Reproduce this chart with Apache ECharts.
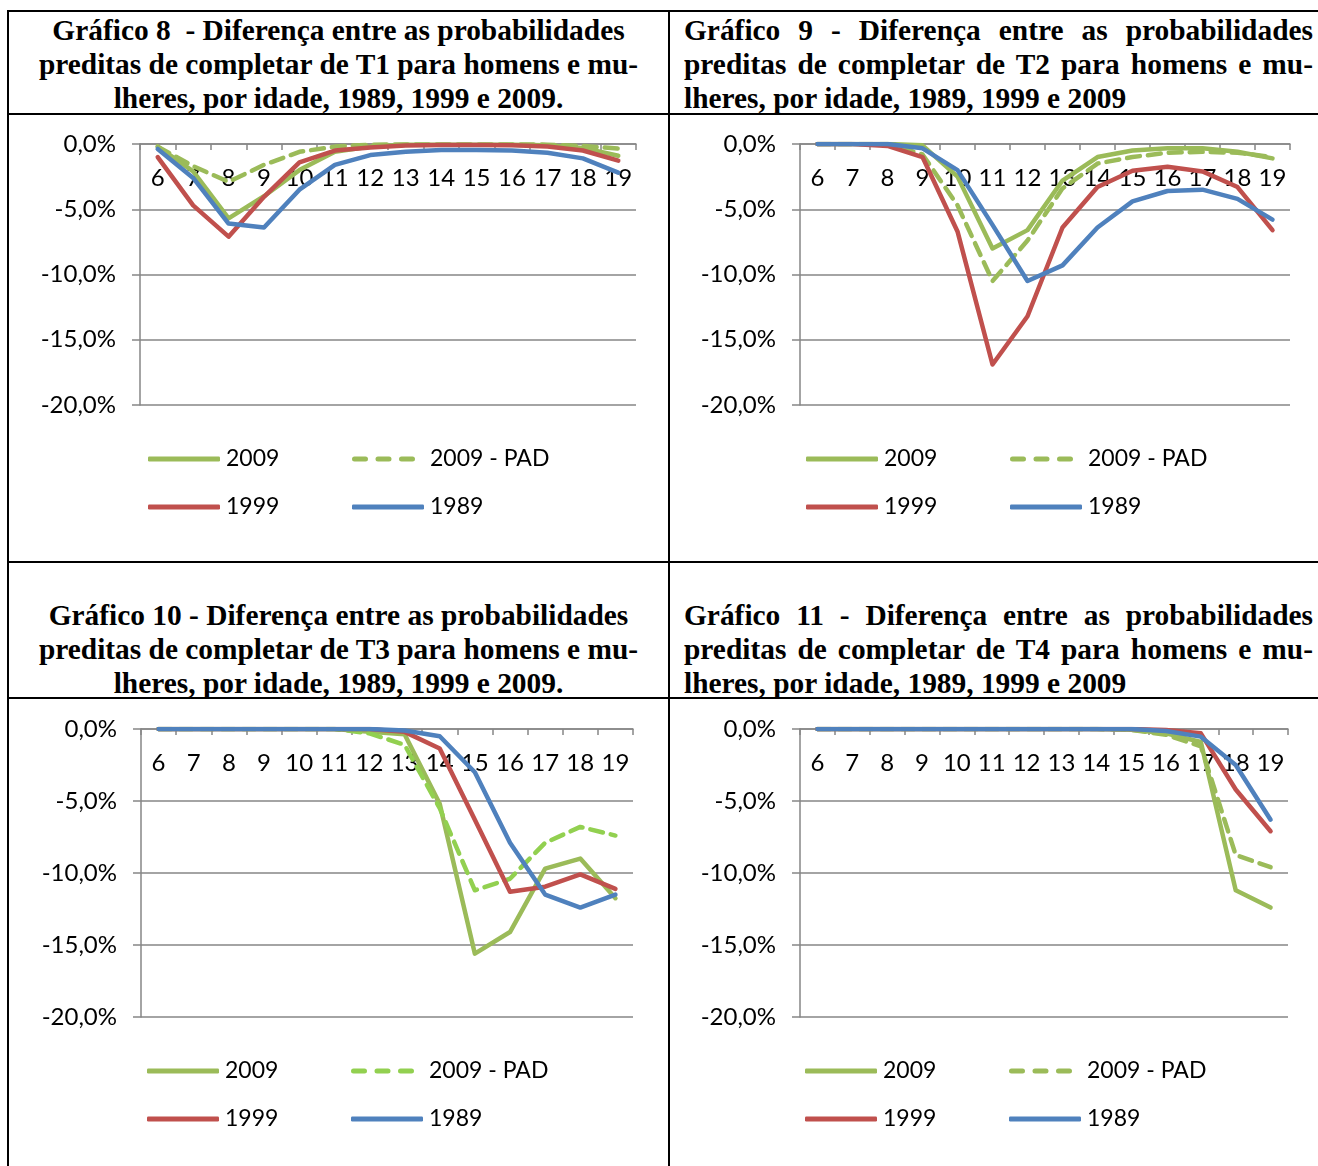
<!DOCTYPE html>
<html><head><meta charset="utf-8">
<script src="https://cdn.jsdelivr.net/npm/echarts@6/dist/echarts.min.js"></script>
<style>
html,body{margin:0;padding:0;background:#fff;width:1318px;height:1166px;overflow:hidden;position:relative;}
.b{position:absolute;background:#000;}
.t{position:absolute;font-family:"Liberation Serif","Times New Roman",serif;font-weight:bold;font-size:29.4px;line-height:34px;color:#000;white-space:nowrap;}
.c{text-align:center;}
.j div{text-align:justify;text-align-last:justify;}
.j div.l{text-align:left;text-align-last:left;}
.ch{position:absolute;left:0;top:0;width:1318px;height:1166px;}
</style></head><body>
<div class="b" style="left:8px;top:10px;width:1310px;height:2px"></div>
<div class="b" style="left:7px;top:10px;width:2px;height:1156px"></div>
<div class="b" style="left:668px;top:10px;width:2px;height:1156px"></div>
<div class="b" style="left:8px;top:113px;width:1310px;height:1.5px"></div>
<div class="b" style="left:8px;top:561px;width:1310px;height:2px"></div>
<div class="b" style="left:8px;top:697px;width:1310px;height:1.5px"></div>

<div class="t c" style="left:8px;top:13px;width:661px">Gráfico 8&nbsp; - Diferença entre as probabilidades<br>preditas de completar de T1 para homens e mu-<br>lheres, por idade, 1989, 1999 e 2009.</div>
<div class="t j" style="left:684px;top:13px;width:629px"><div>Gráfico 9 - Diferença entre as probabilidades</div><div>preditas de completar de T2 para homens e mu-</div><div class="l">lheres, por idade, 1989, 1999 e 2009</div></div>
<div class="t c" style="left:8px;top:598px;width:661px">Gráfico 10 - Diferença entre as probabilidades<br>preditas de completar de T3 para homens e mu-<br>lheres, por idade, 1989, 1999 e 2009.</div>
<div class="t j" style="left:684px;top:598px;width:629px"><div>Gráfico 11 - Diferença entre as probabilidades</div><div>preditas de completar de T4 para homens e mu-</div><div class="l">lheres, por idade, 1989, 1999 e 2009</div></div>

<div id="c8" class="ch"></div>
<div id="c9" class="ch"></div>
<div id="c10" class="ch"></div>
<div id="c11" class="ch"></div>
<script>
var ages = ['6','7','8','9','10','11','12','13','14','15','16','17','18','19'];
var yTicks = [0, -5, -10, -15, -20];
var seriesNames = ['2009', '2009 - PAD', '1999', '1989'];

// Gráfico 8 (T1)
var t1_2009 = [-0.2,-2.1,-5.7,-4.0,-2.0,-0.6,-0.2,-0.05,-0.05,-0.05,-0.05,-0.1,-0.3,-0.9];
var t1_pad  = [-0.2,-1.7,-2.9,-1.6,-0.6,-0.2,-0.05,-0.03,-0.03,-0.03,-0.03,-0.05,-0.15,-0.35];
var t1_1999 = [-1.0,-4.7,-7.1,-4.05,-1.4,-0.5,-0.26,-0.12,-0.08,-0.08,-0.1,-0.2,-0.5,-1.28];
var t1_1989 = [-0.38,-2.6,-6.1,-6.4,-3.5,-1.6,-0.85,-0.6,-0.46,-0.46,-0.5,-0.67,-1.1,-2.2];

// Gráfico 9 (T2)
var t2_2009 = [0,0,0,-0.1,-2.5,-8.0,-6.6,-2.8,-1.0,-0.5,-0.33,-0.33,-0.6,-1.1];
var t2_pad  = [0,0,0,-0.8,-4.7,-10.5,-7.4,-3.4,-1.5,-1.0,-0.67,-0.6,-0.67,-1.0];
var t2_1999 = [0,0,-0.15,-1.0,-6.7,-16.9,-13.2,-6.4,-3.3,-2.05,-1.75,-2.1,-3.3,-6.6];
var t2_1989 = [0,0,0,-0.33,-2.0,-6.2,-10.5,-9.3,-6.4,-4.4,-3.6,-3.5,-4.2,-5.8];

// Gráfico 10 (T3)
var t3_2009 = [0,0,0,0,0,0,-0.2,-0.37,-5.2,-15.6,-14.1,-9.7,-9.0,-11.75];
var t3_pad  = [0,0,0,0,0,0,-0.3,-1.1,-5.5,-11.2,-10.4,-7.9,-6.8,-7.4];
var t3_1999 = [0,0,0,0,0,0,0,-0.2,-1.35,-6.3,-11.3,-10.95,-10.1,-11.1];
var t3_1989 = [0,0,0,0,0,0,0,-0.1,-0.5,-3.0,-7.9,-11.5,-12.4,-11.5];

// Gráfico 11 (T4)
var t4_2009 = [0,0,0,0,0,0,0,0,0,-0.05,-0.3,-0.9,-11.2,-12.4];
var t4_pad  = [0,0,0,0,0,0,0,0,0,-0.05,-0.4,-1.2,-8.75,-9.6];
var t4_1999 = [0,0,0,0,0,0,0,0,0,0,-0.07,-0.3,-4.2,-7.1];
var t4_1989 = [0,0,0,0,0,0,0,0,0,0,-0.14,-0.53,-2.5,-6.3];

var GREEN = '#9BBB59', RED = '#C0504D', BLUE = '#4F81BD', LIME = '#92D050';
var GRAY = '#868686';
var FONT = 'Lato, "Open Sans", sans-serif';
var DASH_ICON = 'path://M2.5,0h11a2.5,2.5 0 0 1 0,5h-11a2.5,2.5 0 0 1 0,-5zM26,0h11a2.5,2.5 0 0 1 0,5h-11a2.5,2.5 0 0 1 0,-5zM49.5,0h11a2.5,2.5 0 0 1 0,5h-11a2.5,2.5 0 0 1 0,-5z';

function fmt(v){ return v.toFixed(1).replace('.', ',') + '%'; }

function build(id, grid, legendX, legendTop, data, padColor){
  var el = document.getElementById(id);
  var chart = echarts.init(el, null, {renderer:'canvas'});
  function ser(name, vals, color, dashed){
    return {
      name: name, type: 'line', data: vals, symbol: 'none', smooth: false,
      lineStyle: {color: color, width: 4.5, type: dashed ? [13, 8] : 'solid', cap: 'round', join: 'round'},
      itemStyle: {color: color}, animation: false
    };
  }
  function leg(name, x, y, icon, w, pad){
    return {
      orient: 'horizontal', left: x, top: y, padding: 0,
      icon: icon, itemWidth: w, itemHeight: 5, symbolKeepAspect: false,
      textStyle: {fontFamily: FONT, fontSize: 23, color: '#000', lineHeight: 24, padding: [0,0,0,pad]},
      selectedMode: false, data: [name]
    };
  }
  var rowGap = 48;
  chart.setOption({
    animation: false,
    grid: grid,
    xAxis: {
      type: 'category', data: ages, position: 'top', boundaryGap: true,
      axisLine: {show: true, lineStyle: {color: GRAY, width: 1.5}},
      axisTick: {show: true, inside: true, length: 6, lineStyle: {color: GRAY, width: 1.5}},
      axisLabel: {inside: true, margin: 22, fontFamily: FONT, fontSize: 24, color: '#000', interval: 0},
      splitLine: {show: false}
    },
    yAxis: {
      type: 'value', min: yTicks[yTicks.length-1], max: yTicks[0], interval: 5,
      axisLine: {show: true, lineStyle: {color: GRAY, width: 1.5}},
      axisTick: {show: true, length: 8, lineStyle: {color: GRAY, width: 1.5}},
      axisLabel: {margin: 24, fontFamily: FONT, fontSize: 24, color: '#000', formatter: fmt},
      splitLine: {show: true, lineStyle: {color: GRAY, width: 1.5}}
    },
    legend: [
      leg(seriesNames[0], legendX[0], legendTop, 'roundRect', 72, 1),
      leg(seriesNames[2], legendX[0], legendTop + rowGap, 'roundRect', 72, 1),
      leg(seriesNames[1], legendX[1], legendTop, DASH_ICON, 63, 10),
      leg(seriesNames[3], legendX[1], legendTop + rowGap, 'roundRect', 72, 1)
    ],
    series: [
      ser(seriesNames[0], data[0], GREEN, false),
      ser(seriesNames[1], data[1], padColor, true),
      ser(seriesNames[2], data[2], RED, false),
      ser(seriesNames[3], data[3], BLUE, false)
    ]
  });
}

build('c8',  {left:140, top:144, width:496, height:261}, [148, 352], 447, [t1_2009, t1_pad, t1_1999, t1_1989], GREEN);
build('c9',  {left:800, top:144, width:490, height:261}, [806, 1010], 447, [t2_2009, t2_pad, t2_1999, t2_1989], GREEN);
build('c10', {left:141, top:729, width:492, height:288}, [147, 351], 1059, [t3_2009, t3_pad, t3_1999, t3_1989], LIME);
build('c11', {left:800, top:729, width:488, height:288}, [805, 1009], 1059, [t4_2009, t4_pad, t4_1999, t4_1989], GREEN);
</script>
</body></html>
